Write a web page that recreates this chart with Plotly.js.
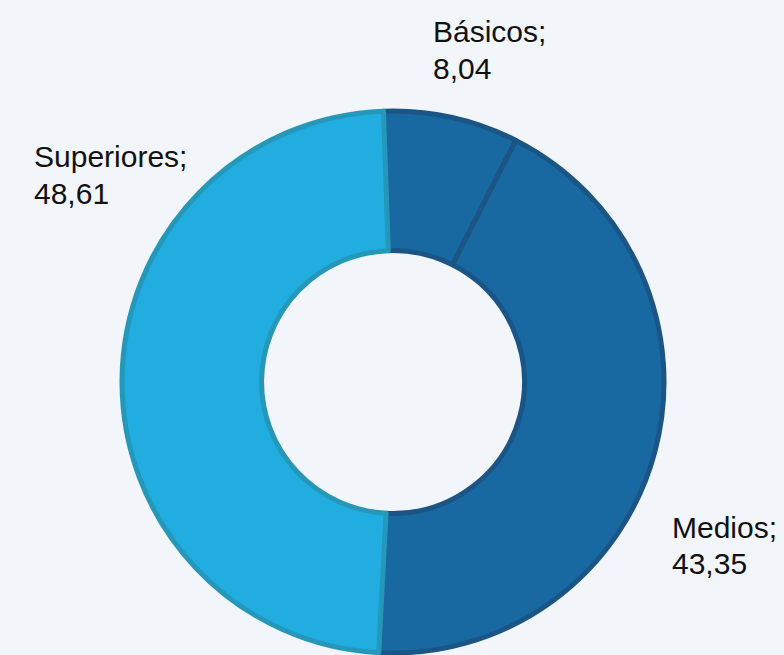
<!DOCTYPE html>
<html>
<head>
<meta charset="utf-8">
<script src="https://cdn.plot.ly/plotly-3.0.1.min.js"></script>
<style>html,body{margin:0;padding:0;background:#f2f5fa;}#chart{width:784px;height:655px;}</style>
</head>
<body>
<div id="chart"></div>
<script>
const categories = ["Básicos", "Medios", "Superiores"];
const values = [8.04, 43.35, 48.61];
const valueLabels = ["8,04", "43,35", "48,61"];

const fillColors = ["#1869a2", "#1869a2", "#21ade0"];
const lineColors = ["#1b5586", "#1b5586", "#2597b9"];

const W = 784, H = 655;
const cx = 393, cy = 382, r = 271;

const trace = {
  type: "pie",
  labels: categories,
  values: values,
  sort: false,
  direction: "clockwise",
  rotation: -2,
  hole: 0.485,
  textinfo: "none",
  hoverinfo: "label+value",
  marker: { colors: fillColors, line: { color: lineColors, width: 5 } },
  domain: { x: [(cx - r) / W, (cx + r) / W], y: [(H - (cy + r)) / H, (H - (cy - r)) / H] },
  showlegend: false
};

// left edge and first-line baseline (pixels) of each label
const labelPos = [
  { x: 431, base: 42 },
  { x: 670, base: 537 },
  { x: 32, base: 167 }
];
const lineGap = 36;
const fontSize = 30;

const annotations = [];
categories.forEach((c, i) => {
  const lines = [c + ";", valueLabels[i]];
  lines.forEach((t, k) => {
    const base = labelPos[i].base + k * lineGap;
    annotations.push({
      xref: "paper", yref: "paper",
      x: labelPos[i].x / W, y: 1 - (base - 10) / H,
      xanchor: "left", yanchor: "middle", align: "left",
      showarrow: false,
      text: t,
      font: { family: "Liberation Sans, Arial, sans-serif", size: fontSize, color: "#111111" }
    });
  });
});

Plotly.newPlot("chart", [trace], {
  width: W, height: H,
  margin: { l: 0, r: 0, t: 0, b: 0 },
  paper_bgcolor: "#f2f5fa",
  plot_bgcolor: "#f2f5fa",
  annotations: annotations
}, { displayModeBar: false, staticPlot: true });
</script>
</body>
</html>
